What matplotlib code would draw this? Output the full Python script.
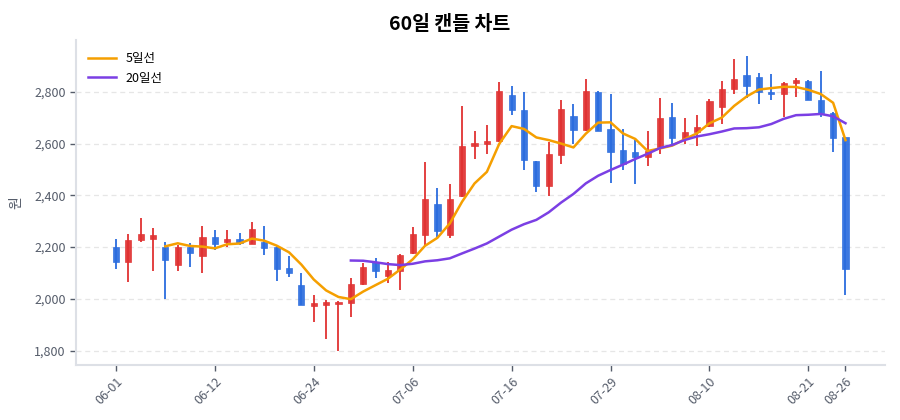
import matplotlib
matplotlib.use("Agg")
import matplotlib.pyplot as plt
from matplotlib.ticker import FuncFormatter
import pandas as pd

plt.rcParams['font.family'] = ['Noto Sans CJK KR', 'DejaVu Sans']

dates = ["06-01", "06-02", "06-03", "06-05", "06-06", "06-08", "06-09", "06-10",
         "06-12", "06-13", "06-15", "06-16", "06-17", "06-19", "06-20", "06-22",
         "06-24", "06-25", "06-26", "06-28", "06-30", "07-01", "07-03", "07-04",
         "07-06", "07-07", "07-08", "07-09", "07-10", "07-12", "07-13", "07-14",
         "07-16", "07-17", "07-19", "07-20", "07-22", "07-23", "07-25", "07-27",
         "07-29", "07-30", "07-31", "08-02", "08-03", "08-05", "08-07", "08-08",
         "08-10", "08-11", "08-13", "08-14", "08-15", "08-17", "08-18", "08-19",
         "08-21", "08-22", "08-24", "08-26"]

opens = [2200, 2142, 2226, 2232, 2200, 2131, 2200, 2167, 2238, 2221,
         2230, 2211, 2221, 2202, 2118, 2054, 1974, 1977, 1979, 1983,
         2057, 2142, 2090, 2108, 2177, 2248, 2365, 2248, 2396, 2592,
         2600, 2609, 2787, 2731, 2531, 2437, 2557, 2706, 2654, 2800,
         2655, 2575, 2568, 2547, 2585, 2703, 2617, 2646, 2667, 2742,
         2809, 2864, 2858, 2800, 2791, 2832, 2842, 2768, 2719, 2624]
highs = [2233, 2250, 2312, 2273, 2221, 2208, 2217, 2283, 2266, 2268,
         2254, 2298, 2283, 2205, 2166, 2102, 2015, 1996, 1992, 2080,
         2138, 2157, 2142, 2172, 2277, 2529, 2428, 2444, 2744, 2650,
         2670, 2839, 2822, 2800, 2533, 2605, 2768, 2751, 2850, 2802,
         2791, 2655, 2613, 2648, 2777, 2757, 2697, 2712, 2770, 2842,
         2926, 2937, 2873, 2867, 2838, 2854, 2845, 2881, 2720, 2627]
lows = [2117, 2064, 2219, 2108, 1999, 2109, 2125, 2099, 2189, 2200,
        2208, 2211, 2170, 2069, 2084, 1977, 1909, 1844, 1800, 1929,
        2054, 2080, 2061, 2035, 2175, 2209, 2241, 2237, 2394, 2540,
        2561, 2605, 2710, 2499, 2411, 2399, 2521, 2600, 2648, 2648,
        2449, 2498, 2444, 2513, 2558, 2600, 2598, 2592, 2665, 2675,
        2790, 2774, 2751, 2768, 2701, 2778, 2767, 2703, 2568, 2015]
closes = [2142, 2228, 2250, 2245, 2151, 2200, 2176, 2238, 2211, 2230,
          2215, 2270, 2198, 2116, 2101, 1977, 1983, 1987, 1990, 2058,
          2125, 2107, 2110, 2170, 2252, 2387, 2261, 2387, 2592, 2602,
          2611, 2802, 2729, 2538, 2437, 2560, 2735, 2654, 2804, 2650,
          2566, 2521, 2547, 2571, 2700, 2622, 2643, 2662, 2764, 2809,
          2849, 2823, 2797, 2791, 2835, 2845, 2768, 2716, 2622, 2114]

tick_idx = [0, 8, 16, 24, 32, 40, 48, 56, 59]

UP = "#e03131"
DOWN = "#2b6cde"

df = pd.DataFrame({"open": opens, "high": highs, "low": lows, "close": closes})
ma5 = df["close"].rolling(5).mean()
ma20 = df["close"].rolling(20).mean()
x = list(range(len(df)))

fig = plt.figure(figsize=(9, 4.2), dpi=100)
ax = fig.add_axes([0.0844, 0.131, 0.8986, 0.774])

for i in x:
    o, h, l, c = opens[i], highs[i], lows[i], closes[i]
    col = UP if c >= o else DOWN
    ax.vlines(i, l, h, color=col, linewidth=1.3, zorder=2)
    lo, hi = min(o, c), max(o, c)
    ax.bar(i, max(hi - lo, 4), bottom=lo, width=0.5, color=col, alpha=0.92,
           edgecolor=col, linewidth=0.5, zorder=3)

ax.plot(x, ma5, color="#f59f00", linewidth=1.8, label="5일선", zorder=4)
ax.plot(x, ma20, color="#7b3fe4", linewidth=1.8, label="20일선", zorder=4)

ax.set_xlim(-3.23, 62.17)
ax.set_ylim(1745, 3000)
ax.set_yticks([1800, 2000, 2200, 2400, 2600, 2800])
ax.yaxis.set_major_formatter(FuncFormatter(lambda v, p: f"{int(v):,}"))
ax.set_xticks(tick_idx)
ax.set_xticklabels([dates[i] for i in tick_idx], rotation=45, ha="right",
                   rotation_mode="anchor")

ax.grid(axis="y", linestyle=(0, (4, 3)), color="#e6e6e6", linewidth=0.9)
ax.set_axisbelow(True)
for s in ["top", "right"]:
    ax.spines[s].set_visible(False)
for s in ["left", "bottom"]:
    ax.spines[s].set_color("#dde0e6")
    ax.spines[s].set_linewidth(1.5)
ax.tick_params(colors="#555c6a", labelsize=9, length=4, width=1)
ax.tick_params(axis="both", color="#555c6a")

ax.set_ylabel("원", color="#555c6a", fontsize=10, labelpad=8)
fig.suptitle("60일 캔들 차트", fontsize=14, fontweight="bold", y=0.965)
ax.legend(loc="upper left", frameon=False, fontsize=9, handlelength=2.2,
          borderaxespad=0.6)

fig.savefig("out.png", dpi=100)
